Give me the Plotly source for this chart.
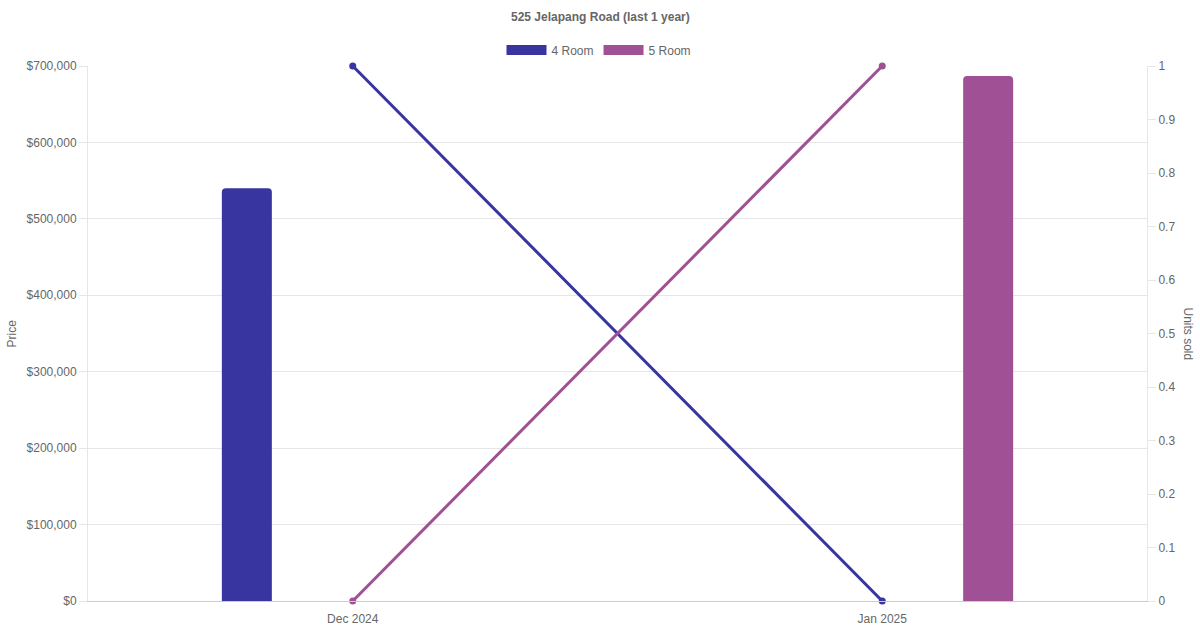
import plotly.graph_objects as go

categories = ["Dec 2024", "Jan 2025"]
series_names = ["4 Room", "5 Room"]
price_4room = [540000, 0]
price_5room = [0, 687000]
units_4room = [1, 0]
units_5room = [0, 1]
price_ticks = [0, 100000, 200000, 300000, 400000, 500000, 600000, 700000]
unit_ticks = [0, 0.1, 0.2, 0.3, 0.4, 0.5, 0.6, 0.7, 0.8, 0.9, 1]

C4 = "rgb(57,53,160)"
C5 = "rgb(160,81,149)"
FONT = "Liberation Sans, Arial, sans-serif"
TXT = "#666666"
GRID = "#e6e6e6"

W, H = 1200, 630
L, R, T, B = 88, 1147, 66, 601  # plot area in window pixels
PW, PH = R - L, B - T


def px(x):
    return (x - L) / PW


def py(y):
    return (B - y) / PH


bar_w = 50 / (PW / 2)
fig = go.Figure()

fig.add_trace(go.Bar(x=categories, y=price_4room, name=series_names[0], marker=dict(color=C4, line=dict(width=0)),
                     width=bar_w, offset=-0.2 - bar_w / 2, showlegend=False, yaxis="y"))
fig.add_trace(go.Bar(x=categories, y=price_5room, name=series_names[1], marker=dict(color=C5, line=dict(width=0)),
                     width=bar_w, offset=0.2 - bar_w / 2, showlegend=False, yaxis="y"))

fig.add_trace(go.Scatter(x=categories, y=units_4room, name=series_names[0], mode="lines+markers", cliponaxis=False,
                         line=dict(color=C4, width=3), marker=dict(color=C4, size=7), showlegend=False, yaxis="y2"))
fig.add_trace(go.Scatter(x=categories, y=units_5room, name=series_names[1], mode="lines+markers", cliponaxis=False,
                         line=dict(color=C5, width=3), marker=dict(color=C5, size=7), showlegend=False, yaxis="y2"))

# legend entries
for nm, c in zip(series_names, [C4, C5]):
    fig.add_trace(go.Scatter(x=[None], y=[None], name=nm, mode="lines", line=dict(color=c, width=12),
                             showlegend=True, yaxis="y2"))

fig.update_layout(
    width=W, height=H,
    margin=dict(l=L, r=W - R, t=T, b=H - B, autoexpand=False),
    paper_bgcolor="white", plot_bgcolor="white",
    font=dict(family=FONT, size=12, color=TXT),
    barcornerradius=4,
    legend=dict(orientation="h", x=px(599), xanchor="center", y=py(50), yanchor="middle",
                font=dict(size=12, color=TXT), itemwidth=40, tracegroupgap=0, bgcolor="rgba(0,0,0,0)"),
    xaxis=dict(type="category", range=[-0.5, 1.5], showgrid=False, showline=True, linecolor="#cccccc", linewidth=1,
               ticks="outside", ticklen=7, tickcolor="rgba(0,0,0,0)", tickfont=dict(size=12, color=TXT),
               zeroline=False, automargin=False),
    yaxis=dict(range=[0, 700000], tickvals=price_ticks, ticktext=["${:,}".format(v) for v in price_ticks],
               showgrid=True, gridcolor=GRID, gridwidth=1, showline=True, linecolor=GRID, ticks="outside",
               ticklen=8, tickcolor=GRID, zeroline=False, tickfont=dict(size=12, color=TXT), automargin=False),
    yaxis2=dict(range=[0, 1], tickvals=unit_ticks, ticktext=[("%g" % v) for v in unit_ticks], overlaying="y",
                side="right", showgrid=False, showline=True, linecolor=GRID, ticks="outside", ticklen=8,
                tickcolor=GRID, zeroline=False, tickfont=dict(size=12, color=TXT), automargin=False),
    annotations=[
        dict(text="<b>525 Jelapang Road (last 1 year)</b>", xref="paper", yref="paper", x=px(600), y=py(17),
             xanchor="center", yanchor="middle", showarrow=False, font=dict(size=12, color=TXT)),
        dict(text="Price", xref="paper", yref="paper", x=px(11), y=0.5,
             xanchor="center", yanchor="middle", textangle=-90, showarrow=False, font=dict(size=12, color=TXT)),
        dict(text="Units sold", xref="paper", yref="paper", x=px(1188), y=0.5,
             xanchor="center", yanchor="middle", textangle=90, showarrow=False, font=dict(size=12, color=TXT)),
    ],
)

fig.write_html("out.html", config={"displayModeBar": False}, post_script="document.body.style.margin='0';")
